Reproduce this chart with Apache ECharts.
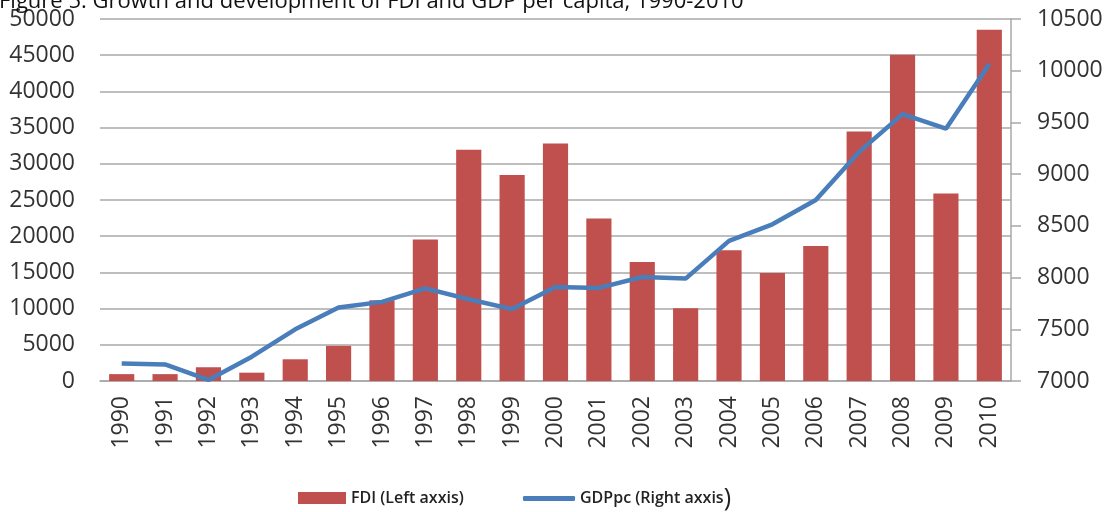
<!DOCTYPE html>
<html>
<head>
<meta charset="utf-8">
<script src="https://cdn.jsdelivr.net/npm/echarts@6/dist/echarts.min.js"></script>
<style>
    html, body { margin: 0; padding: 0; background: #fff; }
    #chart { width: 1111px; height: 512px; }
</style>
</head>
<body>
<div id="chart"></div>
<script>
// data
const years = ["1990", "1991", "1992", "1993", "1994", "1995", "1996", "1997", "1998", "1999", "2000",
    "2001", "2002", "2003", "2004", "2005", "2006", "2007", "2008", "2009", "2010"];
const fdi = [950, 950, 1900, 1150, 3000, 4850, 11150, 19550, 31950, 28450, 32800,
    22450, 16450, 10050, 18050, 14900, 18650, 34450, 45050, 25900, 48500];
const gdppc = [7170, 7160, 7010, 7235, 7500, 7710, 7765, 7895, 7790, 7695, 7910,
    7900, 8005, 7990, 8355, 8515, 8750, 9215, 9580, 9440, 10065];

const FONT = "Open Sans";

const chart = echarts.init(document.getElementById("chart"));
chart.setOption({
    animation: false,
    title: {
        text: "Figure 5: Growth and development of FDI and GDP per capita, 1990-2010",
        left: -1,
        top: -9,
        padding: 0,
        textStyle: { fontFamily: FONT, fontSize: 22, fontWeight: "normal", color: "#111" },
    },
    grid: { left: 100, right: 100, top: 19, bottom: 131 },
    legend: [
        {
            data: [{ name: "FDI (Left axxis)", icon: "rect" }],
            left: 293,
            top: 485,
            itemWidth: 48,
            itemHeight: 12,
            textStyle: { fontFamily: FONT, fontSize: 16, fontWeight: 600, color: "#222" },
        },
        {
            data: [{ name: "GDPpc (Right axxis)", icon: "roundRect" }],
            left: 518,
            top: 481,
            itemWidth: 52,
            itemHeight: 5,
            formatter: (name) => name.replace(")", "{p|)}"),
            textStyle: {
                fontFamily: FONT, fontSize: 16, fontWeight: 600, color: "#222",
                rich: { p: { fontFamily: FONT, fontSize: 25, fontWeight: "normal", color: "#222" } },
            },
        },
    ],
    xAxis: {
        type: "category",
        data: years,
        axisLine: { lineStyle: { color: "#a8a8a8", width: 1.5 } },
        axisTick: { show: false },
        axisLabel: { rotate: 90, margin: 15, fontFamily: FONT, fontSize: 23, color: "#333" },
    },
    yAxis: [
        {
            type: "value",
            min: 0,
            max: 50000,
            interval: 5000,
            axisLine: { show: false },
            axisTick: { show: false },
            axisLabel: { margin: 25, fontFamily: FONT, fontSize: 23, color: "#333", formatter: (v) => String(v) },
            splitLine: { lineStyle: { color: "#a8a8a8", width: 1.5 } },
        },
        {
            type: "value",
            min: 7000,
            max: 10500,
            interval: 500,
            position: "right",
            axisLine: { show: true, lineStyle: { color: "#a8a8a8", width: 1.5 } },
            axisTick: { show: true, length: 10, lineStyle: { color: "#a8a8a8", width: 1.5 } },
            axisLabel: { margin: 26, fontFamily: FONT, fontSize: 23, color: "#333", formatter: (v) => String(v) },
            splitLine: { show: false },
        },
    ],
    series: [
        {
            name: "FDI (Left axxis)",
            type: "bar",
            data: fdi,
            barWidth: "58%",
            itemStyle: { color: "#C0504D" },
        },
        {
            name: "GDPpc (Right axxis)",
            type: "line",
            yAxisIndex: 1,
            data: gdppc,
            showSymbol: false,
            symbol: "none",
            lineStyle: { color: "#4A7EBB", width: 4.5 },
            itemStyle: { color: "#4A7EBB" },
        },
    ],
});
</script>
</body>
</html>
